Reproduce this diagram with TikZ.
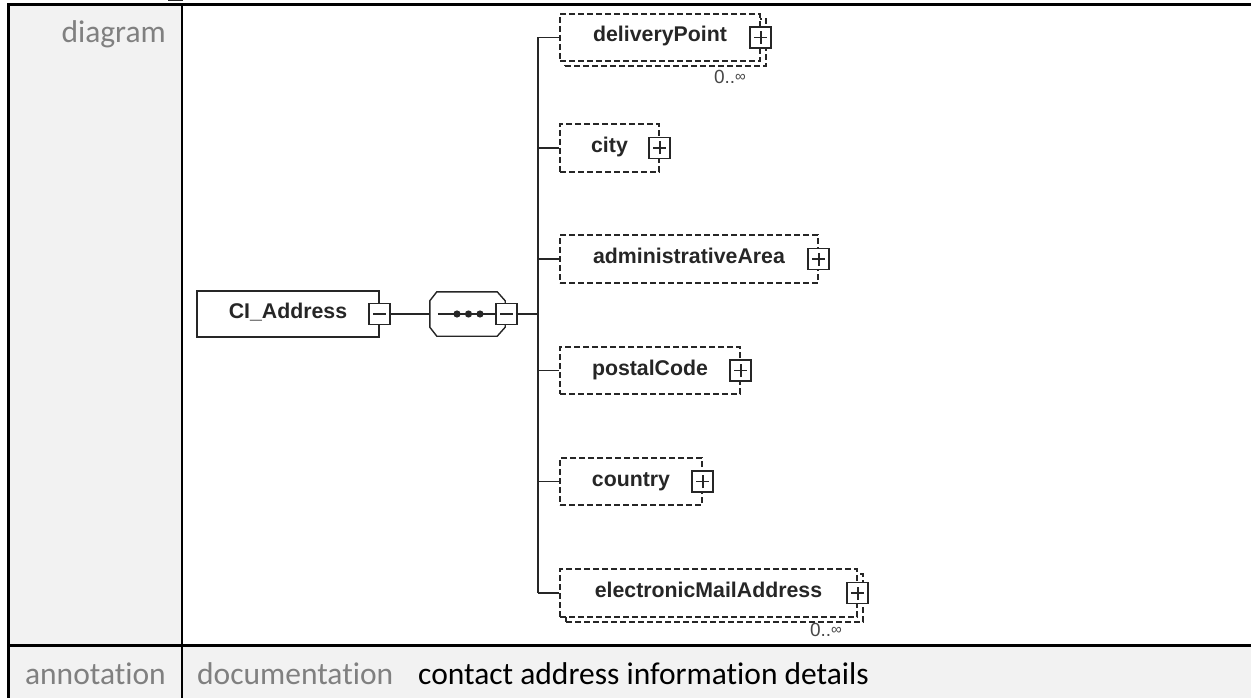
\documentclass[tikz,border=0pt]{standalone}
\usepackage{fontspec}
\setmainfont{Carlito}[Ligatures={NoCommon}]
\newfontfamily\arialf{Liberation Sans}
\definecolor{cellbg}{HTML}{F2F2F2}
\definecolor{lblgray}{HTML}{808080}
\definecolor{ink}{HTML}{262626}
\begin{document}
\begin{tikzpicture}[x=1pt,y=-1pt,
  elem/.style={draw=ink, line width=1.4pt, fill=white, inner sep=0pt,
    font=\arialf\bfseries\fontsize{21.3}{24}\selectfont, text=ink,
    text height=14pt, text depth=5pt},
  opt/.style={elem, dash pattern=on 6pt off 3pt},
  pm/.style={draw=ink, line width=1.6pt, fill=white, minimum width=21pt,
    minimum height=21pt, inner sep=0pt},
  plusbox/.style={pm, path picture={
    \draw[line width=1.6pt, ink] ([xshift=-6.5pt]path picture bounding box.center) -- ([xshift=6.5pt]path picture bounding box.center)
      ([yshift=-6.5pt]path picture bounding box.center) -- ([yshift=6.5pt]path picture bounding box.center);}},
  minusbox/.style={pm, path picture={
    \draw[line width=1.6pt, ink] ([xshift=-6.5pt]path picture bounding box.center) -- ([xshift=6.5pt]path picture bounding box.center);}},
  conn/.style={draw=ink, line width=1.4pt},
  lbl/.style={font=\fontsize{31.5}{36}\selectfont, text=lblgray, inner sep=0pt},
  occ/.style={font=\arialf\fontsize{19}{20}\selectfont, text=ink!85, inner sep=0pt},
  seqbox/.style={minimum width=75pt, minimum height=44pt, inner sep=0pt}
]
\useasboundingbox (0,0) rectangle (1251,698);
% table backgrounds
\fill[cellbg] (10,4) rectangle (181,698);
\fill[cellbg] (10,646) rectangle (1251,698);
\fill[ink] (168,0) rectangle (183,1.3);
% table rules
\draw[line width=2.7pt] (8.7,4.7) -- (1251,4.7);
\draw[line width=2.7pt] (8.7,3.4) -- (8.7,698);
\draw[line width=2.7pt] (182,4.7) -- (182,698);
\draw[line width=2.7pt] (8.7,645.4) -- (1251,645.4);
% table texts
\node[lbl, anchor=base east] (tdiag) at (166,43) {diagram};
\node[lbl, anchor=base east] (tann) at (166,684) {annotation};
\node[lbl, anchor=base west] (tdoc) at (197,684) {documentation};
\node[lbl, anchor=base west, text=black] (tcont) at (418,684) {contact address information details};

% root element
\node[elem, minimum width=182pt, minimum height=46pt] (ci) at (288,314) {CI\_Address};
\node[minusbox] (cim) at (ci.east) {};
% sequence compositor (octagon)
\node[seqbox] (seq) at (467.5,314) {};
\draw[conn, fill=white] ([xshift=7pt]seq.north west) -- ([xshift=-8pt]seq.north east)
  -- ([yshift=-9pt]seq.north east) -- ([yshift=9pt]seq.south east)
  -- ([xshift=-8pt]seq.south east) -- ([xshift=7pt]seq.south west)
  -- ([yshift=9pt]seq.south west) -- ([yshift=-9pt]seq.north west) -- cycle;
\node[minusbox] (seqm) at (506.5,314) {};
\draw[conn] ([xshift=8pt]seq.west) -- (seqm.west);
\fill[ink] (457,314) circle (3.6pt) (468.5,314) circle (3.6pt) (480,314) circle (3.6pt);

% children
\node[opt, minimum width=201pt, minimum height=47pt] (dpb) at (665.5,42.5) {};
\node[opt, minimum width=200pt, minimum height=47pt] (dp) at (660,37.5) {deliveryPoint};
\node[plusbox] (dpp) at (dp.east) {};
\node[occ] (dpo) at (730,77) {0..{\fontsize{15}{16}\selectfont\raisebox{2.5pt}{∞}}};

\node[opt, minimum width=99pt, minimum height=48pt] (city) at (609.5,148) {city};
\node[plusbox] (cityp) at (city.east) {};

\node[opt, minimum width=258pt, minimum height=48pt] (adm) at (689,259) {administrativeArea};
\node[plusbox] (admp) at (adm.east) {};

\node[opt, minimum width=180pt, minimum height=47pt] (pc) at (650,370.5) {postalCode};
\node[plusbox] (pcp) at (pc.east) {};

\node[opt, minimum width=142pt, minimum height=47pt] (co) at (631,481.5) {country};
\node[plusbox] (cop) at (co.east) {};

\node[opt, minimum width=297pt, minimum height=48pt] (emb) at (714.5,598) {};
\node[opt, minimum width=297pt, minimum height=48pt] (em) at (708.5,593) {electronicMailAddress};
\node[plusbox] (emp) at (em.east) {};
\node[occ] (emo) at (826,630) {0..{\fontsize{15}{16}\selectfont\raisebox{2.5pt}{∞}}};

% connectors
\coordinate (jm) at (538,314);
\coordinate (j1) at (538,37.5);
\coordinate (j2) at (538,148);
\coordinate (j3) at (538,259);
\coordinate (j4) at (538,370.5);
\coordinate (j5) at (538,481.5);
\coordinate (j6) at (538,593);
\draw[conn] (cim.east) -- (seq.west);
\draw[conn] (seqm.east) -- (jm);
\draw[conn] (j1) -- (j6);
\draw[conn] (j1) -- (dp.west);
\draw[conn] (j2) -- (city.west);
\draw[conn] (j3) -- (adm.west);
\draw[conn] (j4) -- (pc.west);
\draw[conn] (j5) -- (co.west);
\draw[conn] (j6) -- (em.west);
\end{tikzpicture}
\end{document}
